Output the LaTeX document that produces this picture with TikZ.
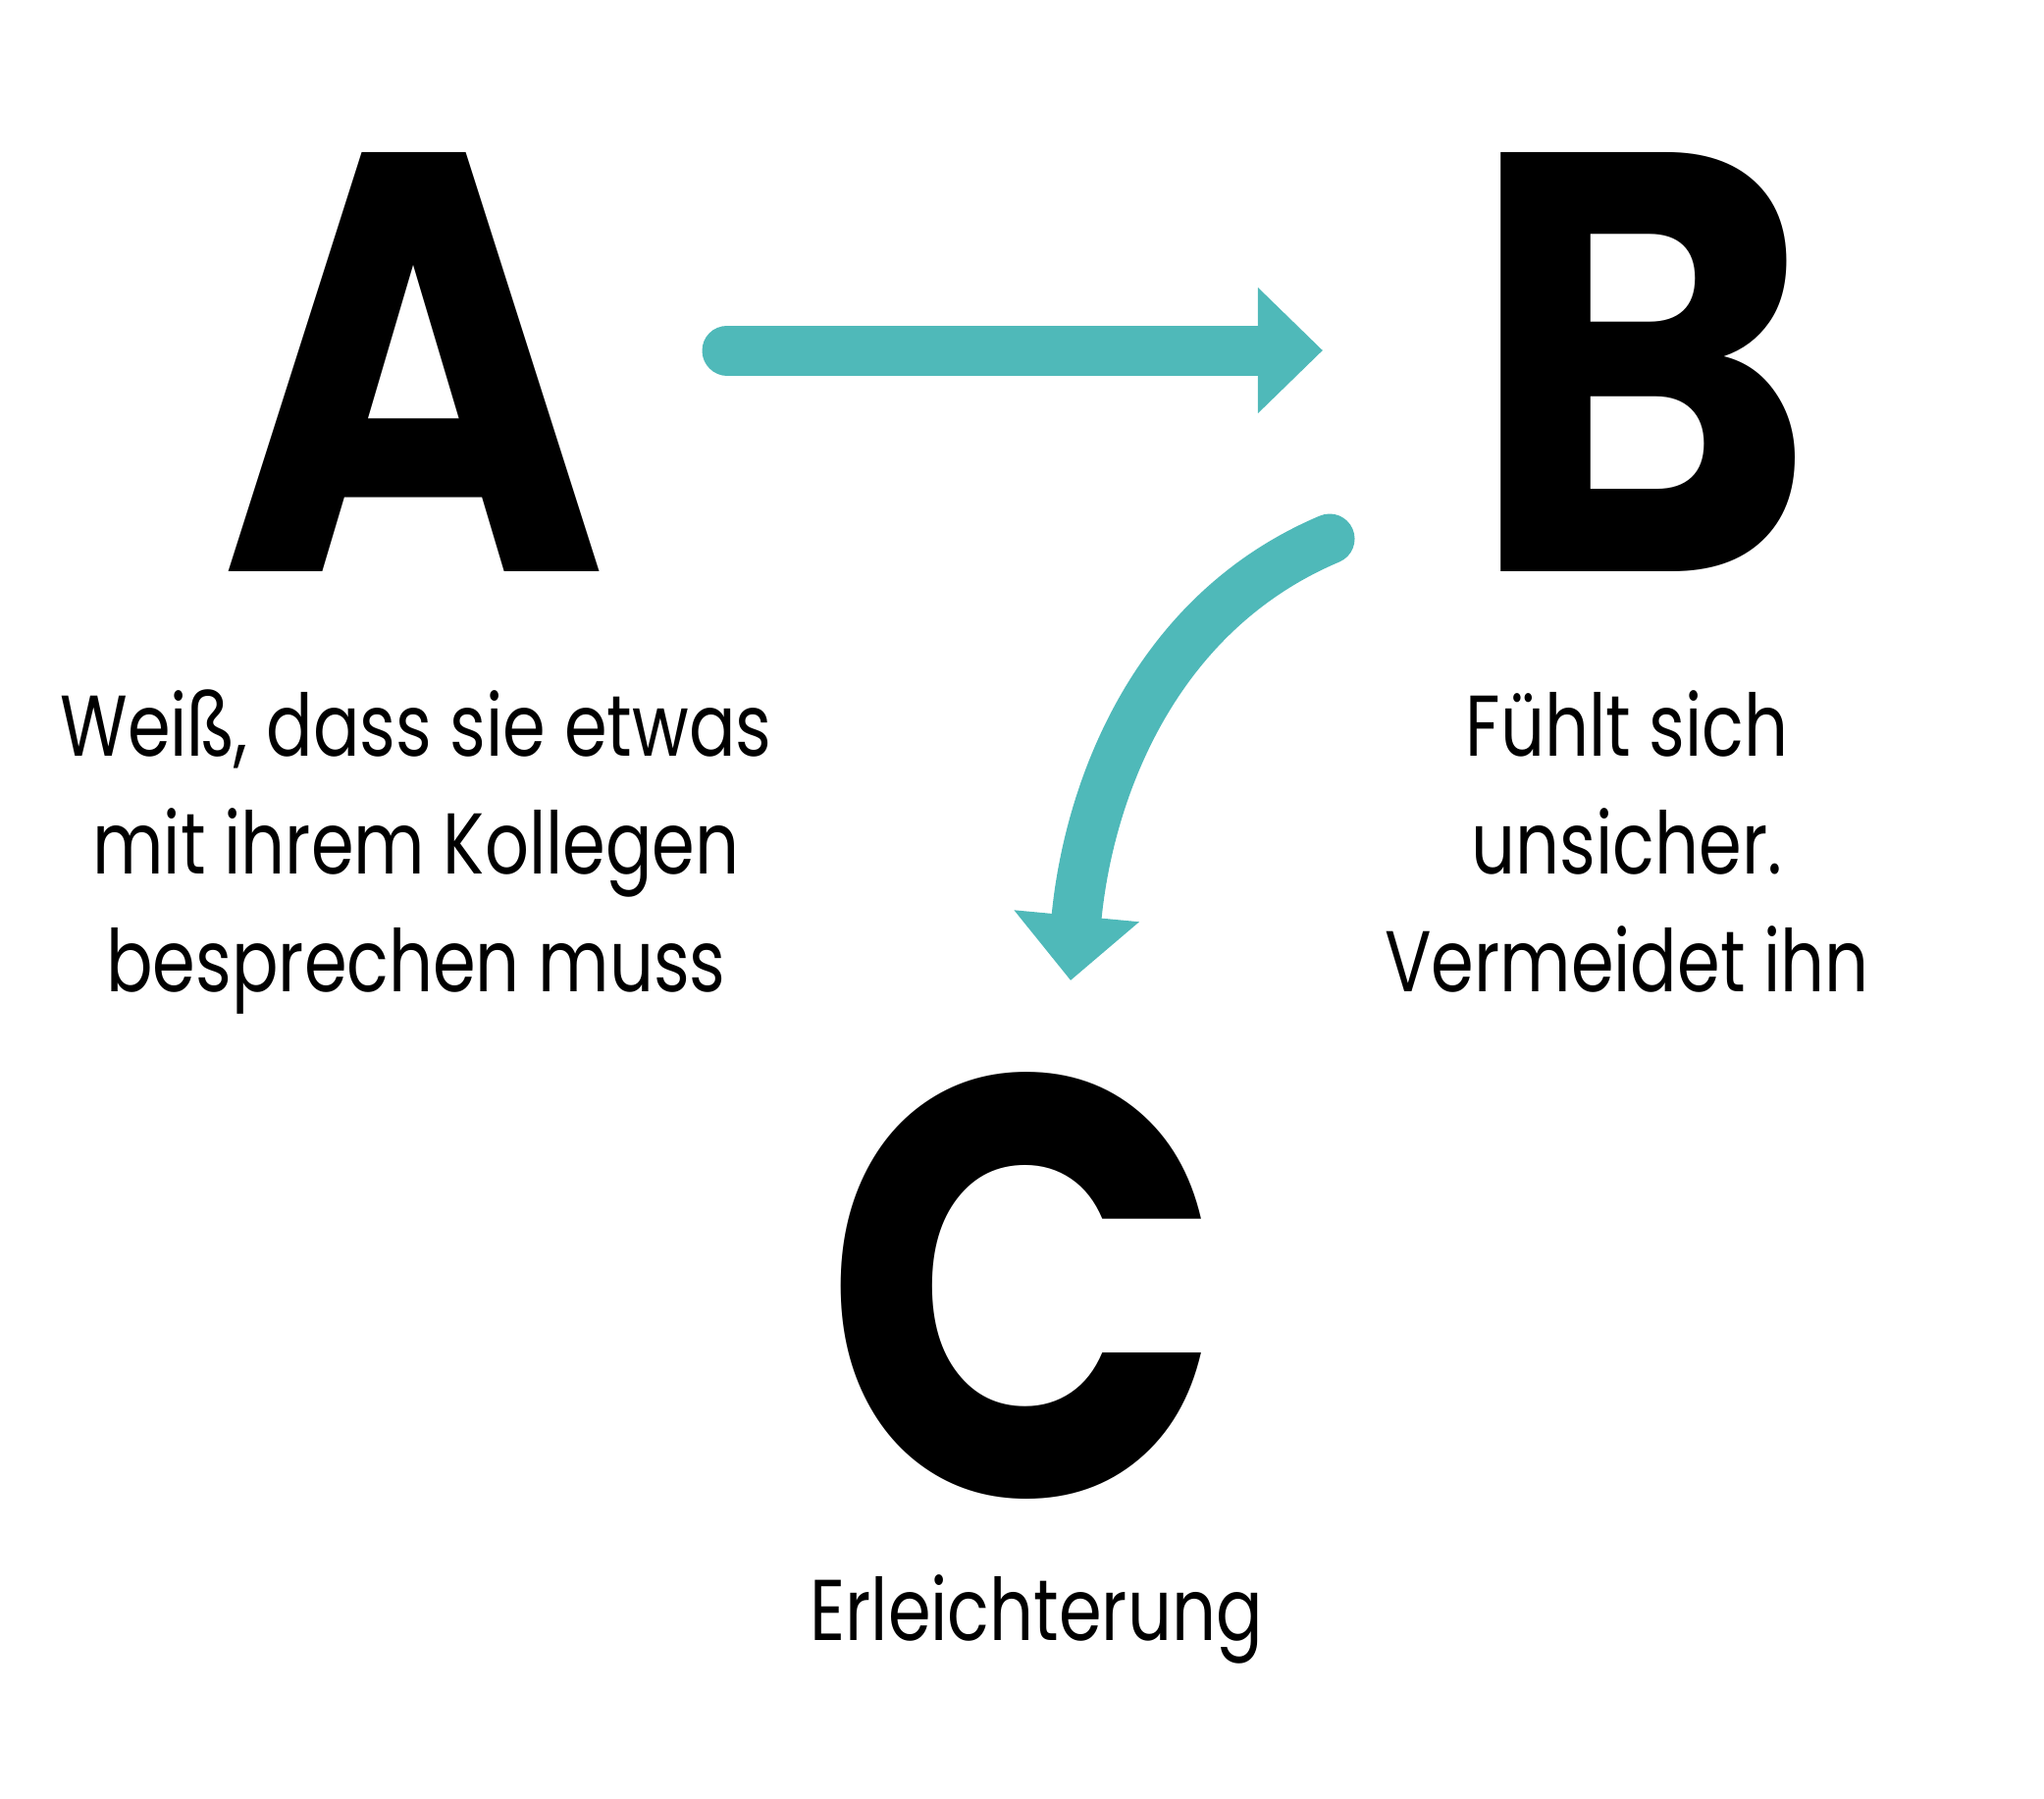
\documentclass[tikz,border=0pt]{standalone}
\usepackage{fontspec}
\setmainfont{Poppins}[FakeStretch=0.8]
\newfontfamily\abcbig{Poppins}[FakeStretch=0.88]
\usepackage{tikz}
\usetikzlibrary{positioning,arrows.meta}
\definecolor{abcteal}{HTML}{4FB9B9}
\tikzset{
  abc letter/.style={font=\abcbig\fontsize{173}{173}\selectfont\bfseries, inner sep=0pt, anchor=base},
  abc text/.style={font=\fontsize{25}{34}\selectfont, align=center, inner sep=0pt, anchor=base},
  abc arr/.style={-{Triangle[length=0.66cm, width=1.24cm]}, line width=0.51cm, line cap=round, abcteal},
}
\begin{document}
\begin{tikzpicture}[x=0.01cm, y=-0.01cm]
  \useasboundingbox (0,0) rectangle (2083,1832);
  \node[abc letter] (A) at (422,582) {A};
  \node[abc letter] (B) at (1673,582) {B};
  \node[abc letter] (C) at (1043,1524) {C};
  \node[abc text] (A text) at (424,1010) {Weiß, dass sie etwas\\mit ihrem Kollegen\\besprechen muss};
  \node[abc text] (B text) at (1658,1010) {Fühlt sich\\unsicher.\\Vermeidet ihn};
  \node[abc text] (C text) at (1056,1671) {Erleichterung};
  % A -> B
  \coordinate (ab start) at (741,357);
  \coordinate (ab end) at (1348,357);
  \draw[abc arr] (ab start) -- (ab end);
  % B -> C
  \coordinate (bc start) at (1355,549);
  \coordinate (bc end) at (1091,999);
  \draw[abc arr] (bc start) .. controls (1175,625) and (1109,807) .. (bc end);
\end{tikzpicture}
\end{document}
